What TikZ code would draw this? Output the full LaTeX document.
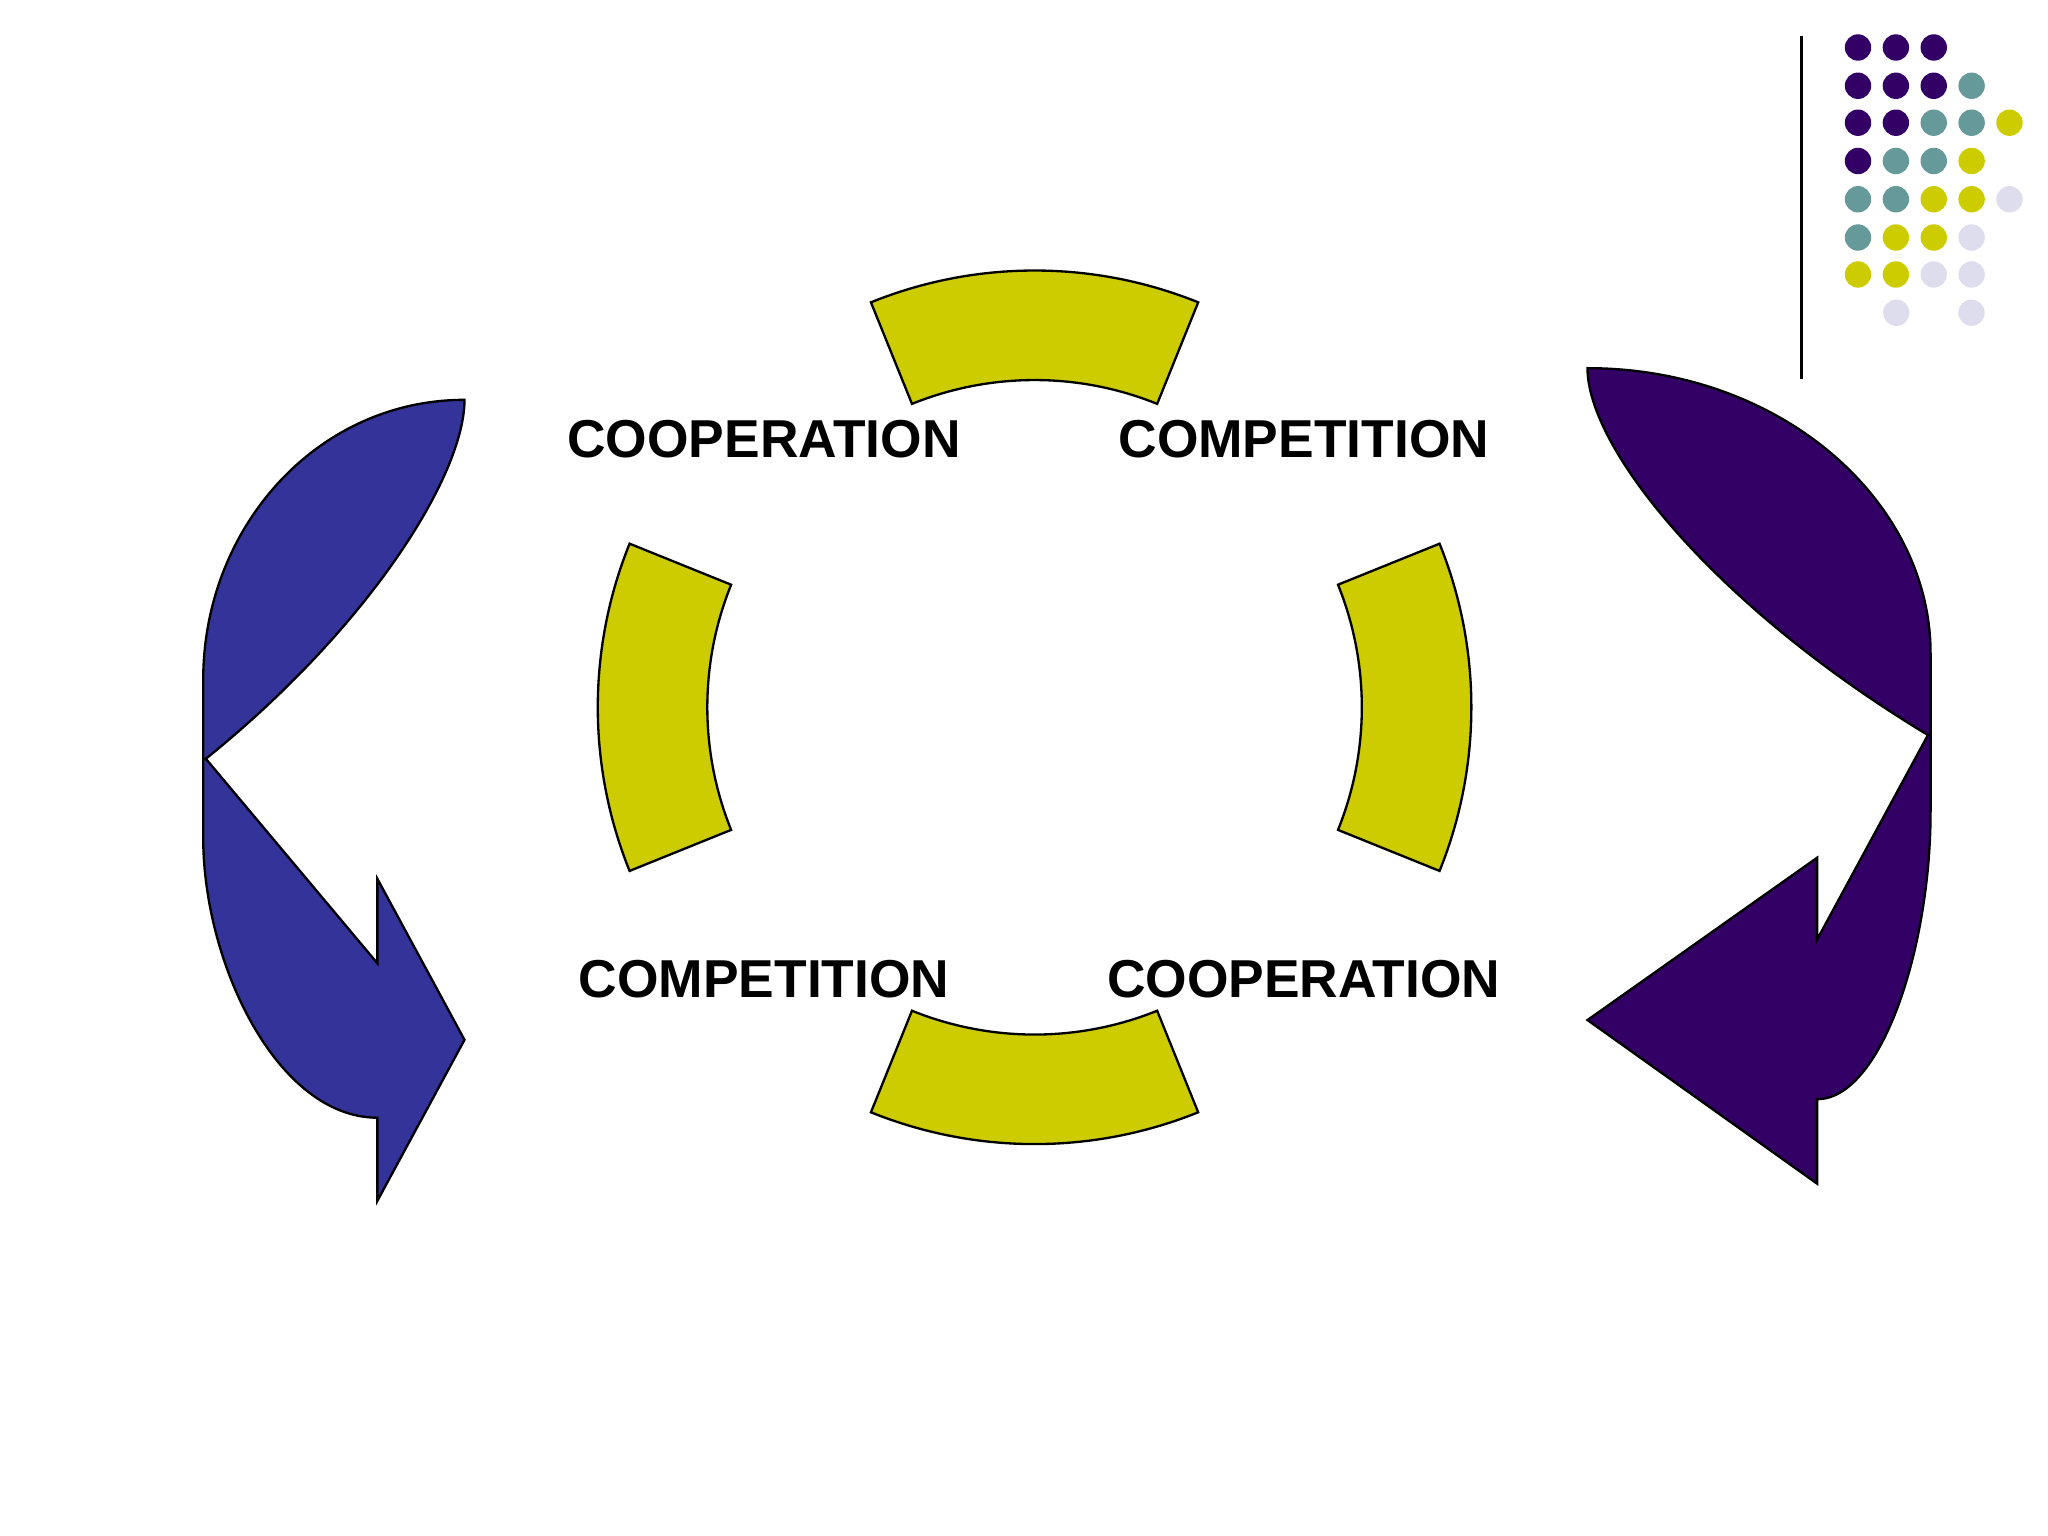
\documentclass[tikz,border=0pt]{standalone}
\usepackage{fontspec}
\setmainfont{Liberation Sans}
\usetikzlibrary{calc}
\begin{document}
\begin{tikzpicture}[x=0.01cm,y=-0.01cm]
\definecolor{yel}{HTML}{CCCC00}
\definecolor{pur}{HTML}{330066}
\definecolor{blu}{HTML}{333399}
\definecolor{tea}{HTML}{669999}
\definecolor{lil}{HTML}{DDDDEE}
\tikzset{seg/.style={fill=yel,draw=black,line width=0.5pt},
lbl/.style={font=\fontsize{11.5}{13}\selectfont\bfseries},
dot/.style={circle,inner sep=0pt,minimum size=0.2cm}}
\useasboundingbox (0,0) rectangle (1552,1164);
% arc segments (center 784,536)
\foreach \a in {0,90,180,270}{
 \draw[seg] ($(784,536)+(\a-22:331)$) arc[start angle=\a-22,end angle=\a+22,radius=331]
   -- ($(784,536)+(\a+22:248)$) arc[start angle=\a+22,end angle=\a-22,radius=248] -- cycle;
}
\node[lbl] (t1) at (579,333) {COOPERATION};
\node[lbl] (t2) at (988,333) {COMPETITION};
\node[lbl] (t3) at (579,742) {COMPETITION};
\node[lbl] (t4) at (988,742) {COOPERATION};
% left arrow
\draw[fill=blu,draw=black,line width=0.5pt] (352,303) .. controls (240,303) and (154,400) .. (154,515)
 -- (154,635) .. controls (154,730) and (210,847) .. (286,847) -- (286,910) -- (352,788) -- (286,666)
 -- (286,730) -- (156,575) .. controls (280,475) and (352,360) .. cycle;
% right arrow
\draw[fill=pur,draw=black,line width=0.5pt] (1203,279) .. controls (1350,279) and (1463,380) .. (1463,495)
 -- (1463,615) .. controls (1463,720) and (1425,833) .. (1377,833) -- (1377,897) -- (1203,773) -- (1377,650)
 -- (1377,712) -- (1461,557) .. controls (1300,460) and (1203,340) .. cycle;
% line
\draw[line width=0.7pt] (1365,27) -- (1365,287);
% dots
\foreach \r/\lst in {36/{pur,pur,pur},65/{pur,pur,pur,tea},93/{pur,pur,tea,tea,yel},122/{pur,tea,tea,yel},151/{tea,tea,yel,yel,lil},180/{tea,yel,yel,lil},208/{yel,yel,lil,lil}}{
 \foreach \c [count=\i from 0] in \lst {
  \node[dot,fill=\c] (d\r-\i) at (1408+28.7*\i,\r) {};
 }
}
\node[dot,fill=lil] (e1) at (1437,237) {};
\node[dot,fill=lil] (e2) at (1494,237) {};
\end{tikzpicture}
\end{document}
